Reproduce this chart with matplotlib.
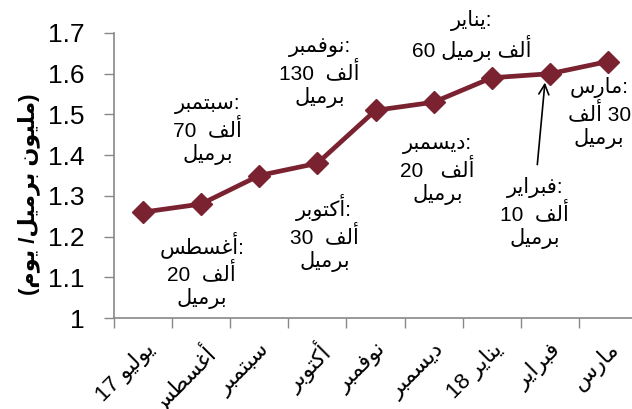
import matplotlib
matplotlib.use('Agg')
import matplotlib.pyplot as plt
import numpy as np

plt.rcParams['font.family'] = ['Liberation Sans', 'DejaVu Sans']

# Arabic shaping by hand: matplotlib has no bidi/shaping, so map letters to
# presentation forms (isolated, final, initial, medial) and reverse.
FORMS = {
    'ا': ('\uFE8D', '\uFE8E'), 'أ': ('\uFE83', '\uFE84'),
    'د': ('\uFEA9', '\uFEAA'), 'ر': ('\uFEAD', '\uFEAE'),
    'و': ('\uFEED', '\uFEEE'),
    'ب': ('\uFE8F', '\uFE90', '\uFE91', '\uFE92'),
    'ت': ('\uFE95', '\uFE96', '\uFE97', '\uFE98'),
    'س': ('\uFEB1', '\uFEB2', '\uFEB3', '\uFEB4'),
    'ط': ('\uFEC1', '\uFEC2', '\uFEC3', '\uFEC4'),
    'غ': ('\uFECD', '\uFECE', '\uFECF', '\uFED0'),
    'ف': ('\uFED1', '\uFED2', '\uFED3', '\uFED4'),
    'ك': ('\uFED9', '\uFEDA', '\uFEDB', '\uFEDC'),
    'ل': ('\uFEDD', '\uFEDE', '\uFEDF', '\uFEE0'),
    'م': ('\uFEE1', '\uFEE2', '\uFEE3', '\uFEE4'),
    'ن': ('\uFEE5', '\uFEE6', '\uFEE7', '\uFEE8'),
    'ي': ('\uFEF1', '\uFEF2', '\uFEF3', '\uFEF4'),
}


def ar(text):
    out = []
    for i, c in enumerate(text):
        if c not in FORMS:
            out.append(c)
            continue
        prev = text[i - 1] if i > 0 else ''
        nxt = text[i + 1] if i + 1 < len(text) else ''
        join_prev = prev in FORMS and len(FORMS[prev]) == 4
        join_next = len(FORMS[c]) == 4 and nxt in FORMS
        f = FORMS[c]
        if join_prev and join_next:
            out.append(f[3])
        elif join_prev:
            out.append(f[1])
        elif join_next:
            out.append(f[2])
        else:
            out.append(f[0])
    return ''.join(out)[::-1]


months = ['يوليو', 'أغسطس', 'سبتمبر', 'أكتوبر', 'نوفمبر', 'ديسمبر', 'يناير', 'فبراير', 'مارس']
year_tags = ['17', '', '', '', '', '', '18', '', '']
production = [1.26, 1.28, 1.35, 1.38, 1.51, 1.53, 1.59, 1.60, 1.63]
increase = [None, 20, 70, 30, 130, 20, 60, 10, 30]

y_title = '(' + ar('يوم') + ' /' + ar('برميل') + ' ' + ar('مليون') + ')'

alef = ar('ألف')
barrel = ar('برميل')
notes = {
    1: ar('أغسطس') + ':\n20  ' + alef + '\n' + barrel,
    2: ar('سبتمبر') + ':\n70  ' + alef + '\n' + barrel,
    3: ar('أكتوبر') + ':\n30  ' + alef + '\n' + barrel,
    4: ar('نوفمبر') + ':\n130  ' + alef + '\n' + barrel,
    5: ar('ديسمبر') + ':\n20   ' + alef + '\n' + barrel,
    6: ar('يناير') + ':\n60 ' + ar('ألف برميل'),
    7: ar('فبراير') + ':\n10  ' + alef + '\n' + barrel,
    8: ar('مارس') + ':\n' + alef + ' 30\n' + barrel,
}
note_pos = {1: (1.01, 1.118), 2: (1.11, 1.462), 3: (3.12, 1.209), 4: (3.04, 1.602),
            5: (5.07, 1.364), 6: (5.65, 1.692), 7: (6.74, 1.258), 8: (7.85, 1.504)}

fig = plt.figure(figsize=(6.32, 4.09), dpi=100)
ax = fig.add_axes([114 / 632, 91 / 409, 523 / 632, 285 / 409])

x = np.arange(len(months))
line_color = '#7A2230'
ax.plot(x, production, color=line_color, lw=3.4, marker='D', markersize=11.5,
        clip_on=False, zorder=5)

ax.set_xlim(-0.5, len(months) - 0.5)
ax.set_ylim(1.0, 1.7)
yt = np.arange(1.0, 1.71, 0.1)
ax.set_yticks(yt)
ax.set_yticklabels(['1' if abs(v - 1) < 1e-9 else f'{v:.1f}' for v in yt], fontsize=19)

xlabels = [(t + ' ' if t else '') + ar(m) for m, t in zip(months, year_tags)]
ax.set_xticks(x)
ax.set_xticklabels(xlabels, fontsize=16, rotation=45, ha='right', va='top',
                   rotation_mode='anchor')
ax.tick_params(axis='x', which='major', length=0, pad=15)
ax.set_xticks(np.arange(-0.5, len(months), 1.0), minor=True)
ax.tick_params(axis='x', which='minor', length=7, color='#888888', width=1)
ax.tick_params(axis='y', length=7, color='#888888', width=1, pad=14)

for s in ['top', 'right']:
    ax.spines[s].set_visible(False)
for s in ['left', 'bottom']:
    ax.spines[s].set_color('#888888')
    ax.spines[s].set_linewidth(1.2)

ax.set_ylabel(y_title, fontsize=16, fontweight='bold')
ax.yaxis.set_label_coords(-0.141, 0.435)

for i, txt in notes.items():
    px, py = note_pos[i]
    ax.text(px, py, txt, ha='center', va='center', multialignment='center',
            fontsize=15, linespacing=1.2)

ax.annotate('', xy=(6.92, 1.585), xytext=(6.78, 1.37),
            arrowprops=dict(arrowstyle='->', color='black', lw=1.2,
                            mutation_scale=18))

fig.savefig('out.png', dpi=100)
